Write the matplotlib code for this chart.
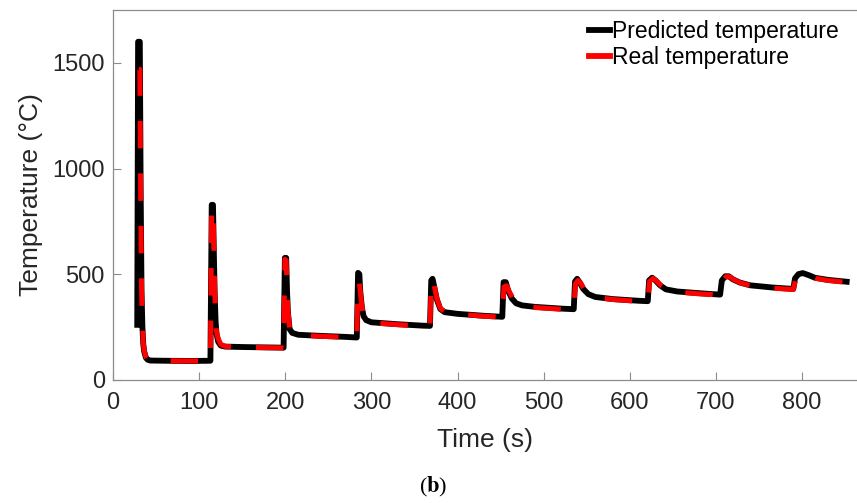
"""Predicted vs. real temperature over the heating cycles (panel b)."""

import matplotlib

matplotlib.use("Agg")
import matplotlib.pyplot as plt

plt.rcParams["font.family"] = ["Liberation Sans", "DejaVu Sans"]
plt.rcParams["mathtext.fontset"] = "stix"

# Predicted temperature (black): time (s), temperature (°C)
pred_t = [
    28, 29, 31, 32, 33, 34, 35, 36, 38, 40, 43, 60, 90, 113,
    114.5, 116, 117, 118, 119, 120, 122, 125, 130, 150, 180, 198,
    199.5, 201, 202, 203, 205, 208, 215, 240, 270, 283,
    284.5, 286, 287, 289, 291, 294, 300, 330, 360, 368,
    369.5, 371, 373, 376, 380, 385, 400, 430, 452,
    453.5, 456, 459, 463, 468, 475, 490, 520, 535,
    536.5, 539, 542, 546, 552, 560, 580, 610, 621,
    622.5, 626, 630, 635, 642, 655, 680, 705,
    707, 711, 715, 720, 728, 740, 765, 790,
    792, 796, 801, 808, 815, 830, 852,
]
pred_T = [
    260, 1600, 1600, 900, 420, 250, 170, 135, 105, 95, 91, 90, 89, 90,
    828, 828, 600, 400, 280, 220, 180, 162, 157, 155, 153, 152,
    577, 577, 420, 320, 240, 222, 213, 208, 203, 200,
    506, 500, 420, 340, 300, 282, 272, 263, 256, 255,
    470, 478, 440, 380, 335, 320, 312, 303, 298,
    462, 462, 420, 385, 362, 352, 345, 337, 334,
    465, 478, 460, 430, 405, 392, 382, 374, 372,
    470, 483, 470, 448, 428, 418, 410, 403,
    470, 490, 490, 475, 460, 447, 437, 430,
    480, 500, 505, 495, 483, 473, 464,
]

# Real (measured) temperature (red)
real_t = [
    30, 31, 32, 33, 34, 35, 36, 38, 40, 43, 60, 90, 113,
    114.5, 116, 117, 118, 119, 120, 122, 125, 130, 150, 180, 198,
    199.5, 201, 202, 203, 205, 208, 215, 240, 270, 283,
    284.5, 286, 288, 290, 292, 295, 300, 330, 360, 368,
    369.5, 371, 373, 376, 380, 385, 400, 430, 452,
    454, 457, 461, 466, 471, 478, 490, 520, 535,
    537, 540, 543, 547, 553, 561, 580, 610, 621,
    623, 627, 631, 636, 643, 656, 680, 705,
    708, 712, 716, 721, 729, 741, 765, 790,
    793, 797, 802, 809, 816, 830, 852,
]
real_T = [
    1470, 1470, 880, 430, 260, 175, 140, 110, 97, 92, 90, 89, 90,
    815, 815, 620, 420, 300, 230, 195, 168, 158, 154, 152, 151,
    570, 565, 430, 330, 245, 224, 212, 206, 201, 198,
    465, 460, 380, 320, 290, 278, 270, 261, 254, 253,
    465, 478, 445, 385, 338, 322, 311, 301, 296,
    440, 445, 410, 375, 356, 348, 342, 334, 331,
    455, 470, 458, 430, 404, 390, 380, 371, 369,
    465, 480, 468, 447, 426, 415, 407, 401,
    465, 488, 488, 474, 458, 445, 434, 427,
    478, 498, 503, 493, 480, 470, 461,
]

X_TICKS = [0, 100, 200, 300, 400, 500, 600, 700, 800]
Y_TICKS = [0, 500, 1000, 1500]

fig = plt.figure(figsize=(8.57, 5.03), dpi=100)
# the axes run off the right edge of the picture, as in the original crop
ax = fig.add_axes([0.132, 0.245, 0.868, 0.735])

ax.plot(pred_t, pred_T, color="black", linewidth=4.2, solid_joinstyle="round",
        label="Predicted temperature")
ax.plot(real_t, real_T, color="red", linewidth=3.6, dashes=(5.5, 5),
        dash_capstyle="butt", label="Real temperature")

ax.set_xlim(0, 864)
ax.set_ylim(0, 1750)
ax.set_xticks(X_TICKS)
ax.set_yticks(Y_TICKS)
ax.tick_params(direction="in", length=6, width=0.8, color="#8c8c8c",
               labelsize=17, labelcolor="#262626", top=False, right=False)
ax.tick_params(axis="x", pad=9)
ax.tick_params(axis="y", pad=6)
ax.spines["right"].set_visible(False)
for side in ax.spines.values():
    side.set_color("#8c8c8c")
    side.set_linewidth(0.9)

ax.set_xlabel("Time (s)", fontsize=19, color="#262626", labelpad=10)
ax.set_ylabel("Temperature (°C)", fontsize=19, color="#262626", labelpad=7)

leg = ax.legend(loc="upper left", bbox_to_anchor=(589 / 857, 1 - 20 / 503),
                bbox_transform=fig.transFigure, frameon=False, fontsize=16.5,
                handlelength=0.9, handletextpad=0.1, labelspacing=0.12,
                borderaxespad=0, borderpad=0)
for h in leg.get_lines():
    h.set_linewidth(4.2)
    h.set_linestyle("-")

fig.text(0.505, 0.032, r"($\mathbf{b}$)", ha="center", va="center",
         fontsize=16, family="Liberation Serif")

fig.savefig("out.png", dpi=100)
